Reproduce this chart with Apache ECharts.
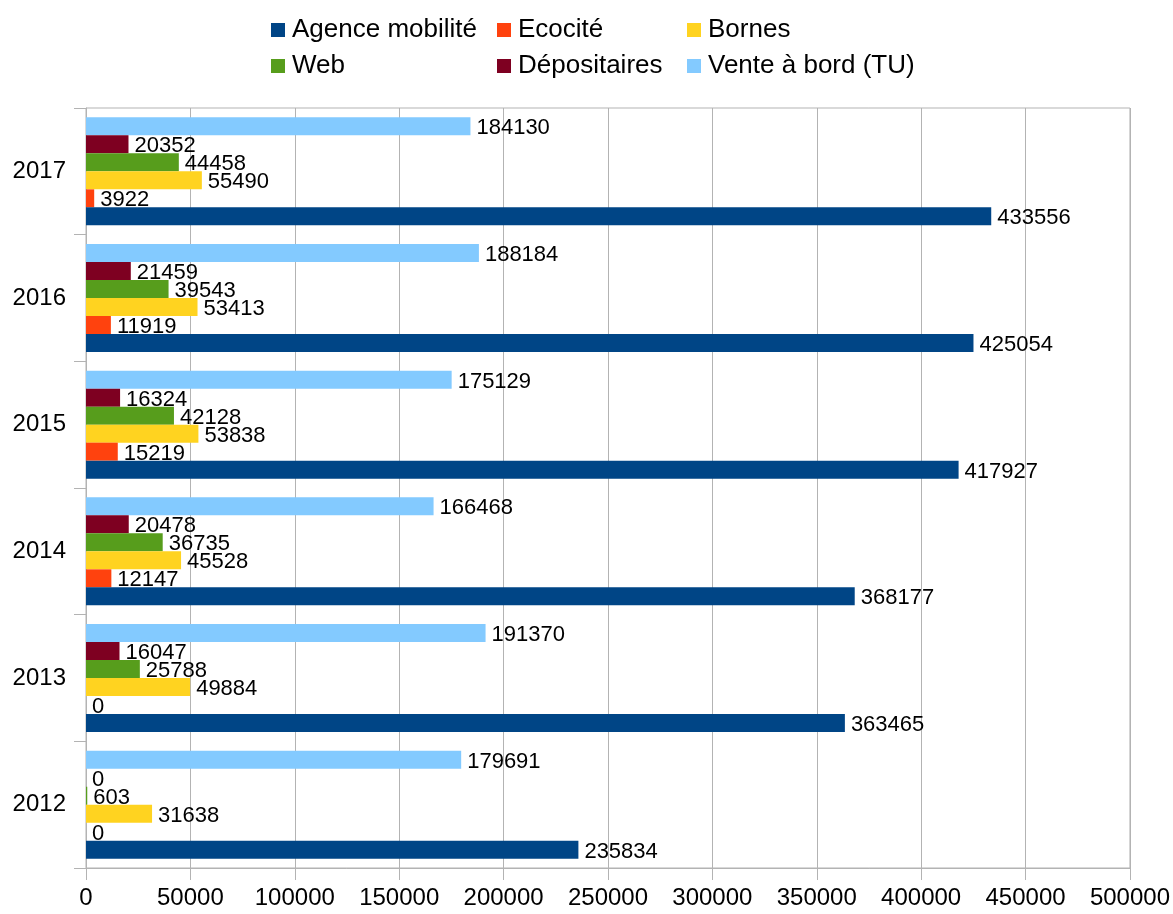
<!DOCTYPE html>
<html>
<head>
<meta charset="utf-8">
<script src="https://cdn.jsdelivr.net/npm/echarts@6/dist/echarts.min.js"></script>
<style>
  html, body { margin: 0; padding: 0; background: #fff; }
  #chart { width: 1173px; height: 914px; }
</style>
</head>
<body>
<div id="chart"></div>
<script>
var years = ['2012', '2013', '2014', '2015', '2016', '2017'];
var agence = [235834, 363465, 368177, 417927, 425054, 433556];
var ecocite = [0, 0, 12147, 15219, 11919, 3922];
var bornes = [31638, 49884, 45528, 53838, 53413, 55490];
var web = [603, 25788, 36735, 42128, 39543, 44458];
var depositaires = [0, 16047, 20478, 16324, 21459, 20352];
var venteBord = [179691, 191370, 166468, 175129, 188184, 184130];
var xTicks = [0, 50000, 100000, 150000, 200000, 250000, 300000, 350000, 400000, 450000, 500000];

var fontName = 'Liberation Sans';
var gridColor = '#b3b3b3';

function makeSeries(name, values, color) {
  return {
    name: name,
    type: 'bar',
    data: values,
    barWidth: 18,
    barGap: '0%',
    itemStyle: { color: color },
    label: {
      show: true,
      position: 'right',
      distance: 6,
      offset: [0, 2],
      color: '#000',
      fontFamily: fontName,
      fontSize: 22
    }
  };
}

function makeLegend(left, names) {
  return {
    orient: 'vertical',
    left: left,
    top: 12,
    itemWidth: 14,
    itemHeight: 14,
    itemGap: 10,
    icon: 'rect',
    textStyle: { fontFamily: fontName, fontSize: 26, color: '#000', padding: [0, 0, 0, 2] },
    data: names
  };
}

var chart = echarts.init(document.getElementById('chart'));
chart.setOption({
  animation: false,
  legend: [
    makeLegend(266, ['Agence mobilité', 'Web']),
    makeLegend(492, ['Ecocité', 'Dépositaires']),
    makeLegend(682, ['Bornes', 'Vente à bord (TU)'])
  ],
  grid: {
    left: 86,
    right: 43,
    top: 108,
    bottom: 46,
    show: true,
    borderColor: gridColor,
    borderWidth: 1
  },
  xAxis: {
    type: 'value',
    min: xTicks[0],
    max: xTicks[xTicks.length - 1],
    interval: 50000,
    axisLine: { show: true, lineStyle: { color: gridColor } },
    axisTick: { show: true, length: 12, lineStyle: { color: gridColor } },
    splitLine: { show: true, lineStyle: { color: gridColor } },
    axisLabel: {
      fontFamily: fontName, fontSize: 24, color: '#000', margin: 18,
      formatter: function (v) { return String(v); }
    }
  },
  yAxis: {
    type: 'category',
    data: years,
    axisLine: { show: true, lineStyle: { color: gridColor } },
    axisTick: { show: true, length: 12, lineStyle: { color: gridColor } },
    axisLabel: { fontFamily: fontName, fontSize: 24, color: '#000', margin: 20 }
  },
  // first series is drawn at the top of each band, so list them top-down
  series: [
    makeSeries('Vente à bord (TU)', venteBord, '#83caff'),
    makeSeries('Dépositaires', depositaires, '#7e0021'),
    makeSeries('Web', web, '#579d1c'),
    makeSeries('Bornes', bornes, '#ffd320'),
    makeSeries('Ecocité', ecocite, '#ff420e'),
    makeSeries('Agence mobilité', agence, '#004586')
  ]
});
</script>
</body>
</html>
